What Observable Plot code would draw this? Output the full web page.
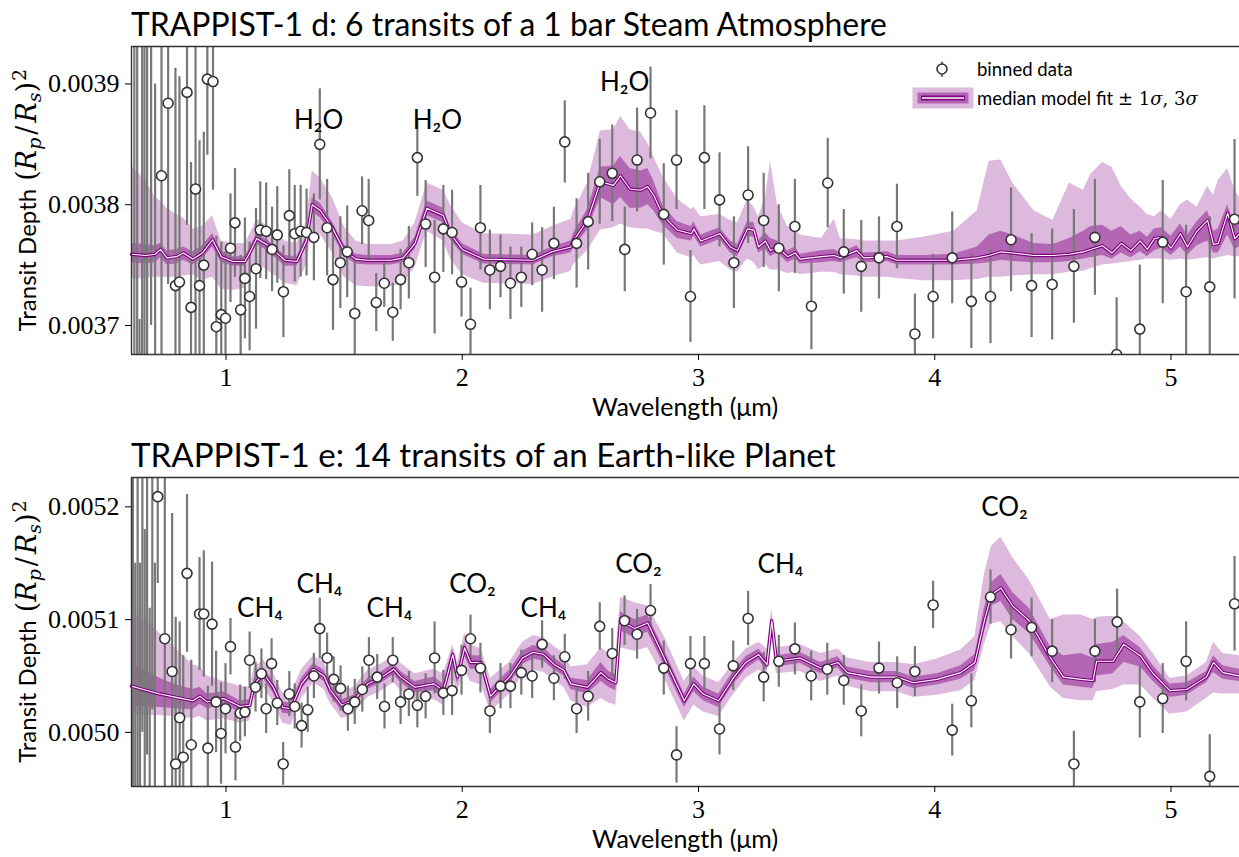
<!DOCTYPE html>
<html><head><meta charset="utf-8">
<script src="https://cdn.jsdelivr.net/npm/d3@7"></script>
<script src="https://cdn.jsdelivr.net/npm/@observablehq/plot@0.6"></script>
<style>
html,body{margin:0;padding:0;background:#fff;}
#wrap{position:relative;width:1239px;height:857px;overflow:hidden;background:#fff;}
#wrap svg{display:block;}
</style></head><body><div id="wrap"></div>
<script>
// ---------------- DATA ----------------
const xTicks = [1, 2, 3, 4, 5];
const yTicksD = [0.0037, 0.0038, 0.0039];
const yTicksE = [0.0050, 0.0051, 0.0052];
const titleD = "TRAPPIST-1 d: 6 transits of a 1 bar Steam Atmosphere";
const titleE = "TRAPPIST-1 e: 14 transits of an Earth-like Planet";
const xLabel = "Wavelength (μm)";

// model (ppm): wavelength, median, 1σ low, 1σ high, 3σ low, 3σ high
const modelD = [
[0.60,3759,3752,3768,3739,3832],[0.66,3758,3751,3767,3739,3820],[0.70,3759,3752,3766,3740,3806],
[0.723,3763,3756,3768,3740,3803],[0.75,3756,3750,3762,3740,3797],[0.79,3757,3751,3763,3740,3792],
[0.82,3760,3754,3765,3741,3789],[0.86,3755,3750,3761,3742,3780],[0.90,3760,3755,3766,3737,3782],
[0.943,3771,3765,3776,3740,3791],[0.98,3757,3752,3762,3730,3770],[1.03,3753,3749,3757,3729,3768],
[1.08,3753,3749,3757,3731,3768],[1.10,3760,3756,3764,3740,3775],[1.13,3772,3767,3776,3752,3788],
[1.18,3766,3761,3770,3745,3782],[1.25,3754,3749,3758,3735,3770],[1.30,3753,3749,3757,3733,3768],
[1.34,3770,3765,3774,3750,3785],[1.365,3800,3794,3806,3778,3828],[1.40,3795,3789,3801,3775,3822],
[1.45,3781,3776,3786,3760,3806],[1.50,3762,3757,3767,3740,3782],[1.55,3755,3751,3759,3733,3770],
[1.60,3754,3750,3758,3732,3767],[1.70,3754,3750,3758,3732,3767],[1.75,3756,3752,3760,3735,3770],
[1.80,3768,3763,3773,3748,3785],[1.85,3797,3791,3803,3778,3818],[1.92,3791,3785,3797,3770,3812],
[1.95,3776,3771,3781,3755,3800],[2.00,3763,3759,3768,3742,3785],[2.09,3755,3751,3759,3735,3776],
[2.30,3754,3750,3758,3734,3775],[2.38,3761,3757,3765,3740,3782],[2.46,3765,3760,3770,3745,3788],
[2.47,3770,3764,3776,3750,3794],[2.53,3787,3779,3796,3762,3818],[2.585,3819,3806,3831,3779,3861],
[2.64,3816,3800,3832,3781,3862],[2.67,3824,3806,3840,3784,3873],[2.71,3813,3797,3830,3781,3862],
[2.755,3812,3797,3828,3780,3860],[2.785,3815,3800,3830,3780,3851],[2.81,3808,3795,3820,3778,3840],
[2.85,3791,3783,3799,3776,3823],[2.91,3779,3772,3786,3760,3805],[2.97,3776,3770,3782,3756,3796],
[2.98,3780,3774,3786,3758,3798],[3.01,3770,3765,3775,3750,3790],[3.09,3776,3771,3781,3753,3792],
[3.135,3765,3760,3770,3746,3787],[3.165,3762,3757,3767,3744,3785],[3.207,3780,3774,3786,3755,3804],
[3.235,3779,3773,3785,3752,3798],[3.254,3765,3760,3770,3746,3790],[3.283,3770,3763,3777,3750,3806],
[3.305,3762,3757,3772,3746,3836],[3.334,3765,3760,3770,3746,3800],[3.377,3757,3752,3762,3743,3782],
[3.41,3760,3755,3765,3744,3780],[3.43,3755,3751,3759,3742,3775],[3.52,3757,3752,3762,3744,3772],
[3.575,3758,3753,3763,3744,3788],[3.60,3756,3752,3760,3742,3772],[3.67,3762,3756,3766,3741,3771],
[3.70,3756,3752,3760,3740,3770],[3.80,3757,3753,3761,3740,3770],[3.84,3754,3750,3758,3739,3770],
[3.95,3754,3750,3758,3737,3773],[4.08,3754,3750,3759,3737,3778],[4.18,3756,3751,3765,3738,3795],
[4.23,3758,3752,3775,3740,3836],[4.28,3761,3754,3778,3740,3837],[4.33,3760,3753,3775,3741,3818],
[4.42,3758,3752,3768,3742,3795],[4.50,3758,3752,3767,3742,3787],[4.57,3759,3753,3772,3744,3818],
[4.63,3761,3755,3778,3745,3812],[4.66,3763,3756,3782,3747,3825],[4.71,3766,3758,3783,3750,3835],
[4.75,3760,3755,3778,3751,3831],[4.79,3768,3760,3782,3752,3815],[4.83,3762,3756,3775,3753,3805],
[4.87,3770,3761,3778,3754,3798],[4.90,3763,3757,3773,3755,3792],[4.93,3772,3762,3780,3755,3790],
[4.96,3773,3764,3781,3755,3795],[5.00,3764,3758,3774,3754,3788],[5.04,3776,3765,3784,3755,3800],
[5.07,3765,3758,3775,3754,3804],[5.11,3778,3766,3786,3755,3798],[5.155,3787,3770,3795,3756,3815],
[5.18,3767,3760,3778,3755,3808],[5.20,3768,3760,3780,3756,3820],[5.24,3793,3775,3800,3758,3830],
[5.27,3772,3763,3782,3757,3812],[5.29,3776,3765,3786,3757,3806]
];
const modelE = [
[0.60,5041,5023,5061,5015,5106],[0.65,5038,5023,5056,5015,5101],[0.72,5034,5022,5048,5015,5088],
[0.79,5031,5021,5042,5014,5074],[0.86,5028,5020,5038,5012,5060],[0.89,5032,5025,5040,5014,5058],
[0.92,5027,5021,5034,5010,5050],[0.99,5030,5024,5036,5012,5045],[1.06,5023,5018,5028,5008,5041],
[1.10,5024,5019,5029,5010,5040],[1.12,5043,5038,5048,5030,5058],[1.16,5052,5047,5057,5040,5064],
[1.20,5040,5035,5045,5027,5053],[1.24,5022,5017,5027,5008,5035],[1.275,5021,5016,5026,5006,5034],
[1.32,5043,5038,5048,5030,5056],[1.37,5056,5051,5061,5044,5068],[1.415,5050,5045,5055,5038,5062],
[1.44,5038,5033,5043,5026,5050],[1.49,5024,5019,5029,5012,5036],[1.54,5028,5023,5033,5016,5040],
[1.60,5043,5038,5048,5031,5055],[1.66,5049,5044,5054,5037,5061],[1.71,5056,5051,5061,5044,5068],
[1.74,5049,5044,5054,5037,5061],[1.80,5040,5035,5045,5028,5052],[1.88,5043,5037,5049,5029,5056],
[1.92,5037,5031,5043,5024,5052],[1.96,5069,5060,5074,5048,5078],[1.98,5049,5043,5055,5036,5062],
[2.01,5075,5068,5080,5055,5088],[2.035,5062,5056,5068,5045,5078],[2.08,5062,5056,5068,5042,5074],
[2.12,5032,5026,5038,5018,5048],[2.16,5041,5035,5047,5026,5055],[2.20,5049,5043,5055,5034,5062],
[2.255,5066,5060,5072,5050,5080],[2.30,5071,5065,5077,5055,5086],[2.345,5069,5063,5075,5053,5084],
[2.39,5060,5055,5066,5046,5076],[2.43,5055,5050,5060,5040,5070],[2.46,5043,5038,5048,5028,5058],
[2.53,5040,5034,5046,5022,5060],[2.587,5053,5045,5062,5030,5075],[2.62,5047,5040,5054,5026,5070],
[2.65,5044,5037,5051,5024,5068],[2.67,5099,5090,5107,5075,5120],[2.73,5092,5084,5100,5072,5115],
[2.785,5097,5089,5104,5075,5112],[2.855,5066,5059,5073,5048,5085],[2.94,5028,5022,5034,5010,5045],
[2.98,5043,5036,5049,5024,5058],[3.02,5034,5028,5040,5018,5050],[3.085,5028,5022,5034,5014,5044],
[3.15,5049,5043,5055,5034,5062],[3.20,5062,5056,5067,5048,5074],[3.255,5069,5064,5074,5055,5080],
[3.29,5060,5055,5065,5050,5074],[3.31,5099,5092,5103,5085,5110],[3.33,5063,5058,5068,5052,5075],
[3.43,5066,5061,5071,5054,5078],[3.517,5057,5052,5062,5045,5070],[3.59,5062,5057,5067,5050,5074],
[3.63,5053,5048,5058,5041,5066],[3.73,5049,5044,5054,5036,5062],[3.84,5049,5044,5054,5036,5062],
[3.91,5044,5039,5049,5031,5060],[4.01,5047,5042,5052,5033,5065],[4.11,5053,5047,5059,5037,5073],
[4.17,5062,5055,5069,5046,5085],[4.21,5099,5089,5110,5078,5140],[4.24,5122,5112,5133,5096,5165],
[4.28,5128,5116,5140,5098,5173],[4.33,5112,5100,5124,5085,5155],[4.40,5099,5088,5110,5070,5135],
[4.49,5066,5058,5076,5040,5100],[4.545,5049,5042,5068,5030,5104],[4.62,5047,5040,5070,5028,5104],
[4.67,5046,5039,5066,5028,5100],[4.685,5063,5050,5078,5036,5102],[4.755,5063,5052,5080,5038,5103],
[4.80,5078,5062,5086,5042,5098],[4.87,5068,5058,5075,5042,5085],[4.925,5052,5045,5059,5030,5070],
[4.995,5037,5031,5043,5016,5048],[5.066,5038,5033,5044,5018,5050],[5.15,5049,5044,5054,5030,5062],
[5.18,5062,5053,5068,5035,5080],[5.22,5053,5047,5059,5034,5070],[5.29,5050,5045,5056,5034,5068]
];

// binned data (ppm): wavelength, depth, 1σ error
const dataD = [
[0.612,3990,400],[0.624,3620,350],[0.634,3610,95],[0.645,3950,320],[0.655,3640,300],[0.666,4000,360],
[0.683,3960,260],[0.700,3640,260],
[0.727,3824,200],[0.755,3884,150],[0.786,3733,180],[0.803,3736,170],[0.835,3893,110],[0.852,3715,120],
[0.871,3813,140],[0.888,3733,120],[0.906,3750,110],[0.921,3904,63],[0.945,3902,90],[0.959,3699,75],
[0.980,3709,60],[0.998,3706,55],[1.019,3764,45],[1.038,3785,45],[1.062,3713,45],[1.080,3739,50],
[1.100,3724,45],[1.127,3747,50],[1.145,3779,40],[1.170,3778,40],[1.195,3763,35],[1.217,3775,40],
[1.243,3728,38],[1.268,3791,38],[1.291,3776,40],[1.316,3778,38],[1.341,3777,36],[1.372,3773,36],
[1.397,3850,46],[1.428,3781,40],[1.453,3738,42],[1.484,3752,38],[1.513,3761,38],[1.545,3710,45],
[1.576,3795,28],[1.604,3787,34],[1.636,3719,24],[1.670,3735,20],[1.706,3711,24],[1.739,3738,25],
[1.774,3752,30],[1.810,3839,32],[1.845,3784,36],[1.883,3740,47],[1.920,3780,36],[1.957,3777,35],
[1.997,3736,29],[2.035,3701,30],[2.077,3781,35],[2.117,3746,33],[2.162,3749,26],[2.204,3735,30],
[2.250,3740,25],[2.296,3759,26],[2.338,3746,35],[2.388,3768,30],[2.434,3852,34],[2.484,3768,37],
[2.533,3786,40],[2.582,3819,35],[2.635,3826,40],[2.688,3763,35],[2.740,3837,43],[2.797,3876,38],
[2.853,3792,42],[2.907,3837,41],[2.966,3724,38],[3.025,3839,43],[3.089,3804,39],[3.150,3752,38],
[3.210,3808,40],[3.276,3787,39],[3.340,3764,36],[3.408,3782,39],[3.478,3716,36],[3.547,3818,37],
[3.615,3761,35],[3.689,3749,38],[3.764,3756,34],[3.840,3782,35],[3.916,3693,33],[3.993,3724,35],
[4.074,3756,38],[4.155,3720,39],[4.236,3724,39],[4.323,3771,43],[4.410,3733,43],[4.497,3734,46],
[4.589,3749,47],[4.678,3773,48],[4.770,3676,47],[4.868,3697,53],[4.965,3769,51],[5.064,3728,55],
[5.164,3732,58],[5.269,3788,66]
];
const dataE = [
[0.606,5300,400],[0.616,4800,350],[0.626,5250,300],[0.636,4850,300],[0.646,5350,350],[0.656,4900,280],
[0.666,5280,300],[0.677,4860,250],[0.688,5300,280],[0.699,4900,250],
[0.711,5209,77],[0.741,5083,160],[0.772,5054,140],[0.787,4972,130],[0.804,5013,85],[0.819,4978,90],
[0.835,5141,70],[0.853,4989,75],[0.888,5105,50],[0.906,5105,56],[0.923,4986,55],[0.941,5096,55],
[0.958,5027,45],[0.979,4999,45],[0.998,5021,40],[1.019,5076,25],[1.040,4987,30],[1.060,5017,25],
[1.080,5018,22],[1.100,5064,25],[1.125,5040,22],[1.150,5052,22],[1.170,5021,22],[1.193,5061,22],
[1.217,5026,20],[1.242,4972,19],[1.268,5034,20],[1.291,5023,20],[1.320,5006,20],[1.346,5020,20],
[1.372,5050,20],[1.397,5092,27],[1.428,5066,22],[1.456,5047,20],[1.485,5039,20],[1.516,5021,20],
[1.545,5027,20],[1.577,5038,20],[1.605,5064,20],[1.640,5049,20],[1.671,5023,20],[1.706,5064,20],
[1.739,5027,20],[1.774,5034,20],[1.810,5024,20],[1.845,5032,20],[1.883,5066,32],[1.920,5035,20],
[1.957,5037,22],[1.997,5055,22],[2.035,5083,21],[2.077,5057,22],[2.117,5019,20],[2.162,5041,20],
[2.204,5041,20],[2.250,5053,20],[2.296,5050,20],[2.338,5078,21],[2.388,5048,20],[2.434,5067,20],
[2.484,5021,22],[2.533,5032,22],[2.582,5094,21],[2.635,5070,22],[2.687,5099,22],[2.740,5087,22],
[2.797,5108,23],[2.853,5057,24],[2.907,4980,25],[2.966,5061,24],[3.025,5061,24],[3.089,5003,23],
[3.147,5059,22],[3.210,5101,24],[3.276,5049,22],[3.340,5063,23],[3.408,5074,23],[3.477,5050,22],
[3.545,5056,23],[3.615,5046,22],[3.689,5019,23],[3.764,5057,23],[3.841,5044,23],[3.916,5054,22],
[3.993,5113,21],[4.074,5002,23],[4.155,5028,24],[4.236,5120,24],[4.323,5091,26],[4.410,5093,26],
[4.497,5072,28],[4.589,4972,29],[4.678,5072,28],[4.772,5098,29],[4.868,5027,32],[4.965,5030,31],
[5.064,5063,35],[5.164,4961,37],[5.269,5114,42]
];

// molecule labels (wavelength, ppm)
const labelsD = [[1.392,3870,"H₂O"],[1.895,3870,"H₂O"],[2.687,3901,"H₂O"]];
const labelsE = [[1.144,5110,"CH₄"],[1.396,5131,"CH₄"],[1.692,5110,"CH₄"],[2.043,5131,"CO₂"],
                 [2.344,5110,"CH₄"],[2.746,5149,"CO₂"],[3.347,5149,"CH₄"],[4.295,5199,"CO₂"]];

const xDomain = [0.6, 5.29];
const yDomainD = [3676, 3931];
const yDomainE = [4952, 5226];

// ---------------- DRAWING ----------------
const P = v => v * 1e-6;
const SANS = "Lato, 'Open Sans', sans-serif";
const SERIF = "'Liberation Serif', 'DejaVu Serif', serif";
const MATH = "'DejaVu Serif', 'Liberation Serif', serif";
const PURPLE = "#800080";

function panel({model, data, labels, yDomain, yTicks, height, mt, mb}) {
  const m = model.map(([w, med, l1, h1, l3, h3]) => ({w, m: P(med), l1: P(l1), h1: P(h1), l3: P(l3), h3: P(h3)}));
  const pts = data.map(([w, v, e]) => ({w, v: P(v), lo: P(v - e), hi: P(v + e)}));
  const lab = labels.map(([w, v, t]) => ({w, v: P(v), t}));
  const [y0, y1] = yDomain.map(P);
  return Plot.plot({
    width: 1239, height, marginLeft: 131, marginRight: 0, marginTop: mt, marginBottom: mb,
    x: {domain: xDomain},
    y: {domain: [y0, y1]},
    style: {fontFamily: SERIF, fontSize: "26px", color: "#000", background: "transparent", overflow: "visible"},
    marks: [
      Plot.areaY(m, {x: "w", y1: "l3", y2: "h3", fill: PURPLE, fillOpacity: 0.27}),
      Plot.areaY(m, {x: "w", y1: "l1", y2: "h1", fill: PURPLE, fillOpacity: 0.45}),
      Plot.ruleX(pts, {x: "w", y1: "lo", y2: "hi", stroke: "#787878", strokeWidth: 2.2, clip: true}),
      Plot.line(m, {x: "w", y: "m", stroke: PURPLE, strokeWidth: 3.4}),
      Plot.line(m, {x: "w", y: "m", stroke: "#fff", strokeWidth: 1.1}),
      Plot.dot(pts, {x: "w", y: "v", r: 5, fill: "#fff", stroke: "#333", strokeWidth: 1.6, clip: true}),
      Plot.text(lab, {x: "w", y: "v", text: "t", fontSize: 26, fontFamily: SANS, fill: "#000"}),
      Plot.ruleX([xDomain[0]], {stroke: "#333", strokeWidth: 1.4}),
      Plot.ruleY([y0], {stroke: "#333", strokeWidth: 1.4}),
      Plot.ruleY([y1], {stroke: "#333", strokeWidth: 1.4}),
      Plot.axisX({ticks: xTicks, tickFormat: d => String(d), tickSize: 6, tickPadding: 7, label: null, fontSize: 26, fontFamily: SERIF}),
      Plot.axisY({ticks: yTicks, tickFormat: d3.format(".4f"), tickSize: 6, tickPadding: 6, label: null, fontSize: 26, fontFamily: SERIF})
    ]
  });
}

function decorate(svg, {title, titleWidth, height, mt, mb}) {
  const s = d3.select(svg);
  const t = s.append("text").attr("x", 131).attr("y", mt - 10).attr("text-anchor", "start")
    .attr("font-family", SANS).attr("font-size", 30).attr("fill", "#000").text(title);
  const tw = t.node().getComputedTextLength();
  if (tw > 0) t.attr("font-size", 30 * titleWidth / tw);
  s.append("text").attr("x", (131 + 1239) / 2).attr("y", height - mb + 62)
    .attr("text-anchor", "middle").attr("font-family", SANS).attr("font-size", 25).attr("fill", "#000").text(xLabel);
  const yl = s.append("text").attr("transform", `translate(36,${(mt + height - mb) / 2}) rotate(-90)`)
    .attr("text-anchor", "middle").attr("font-size", 27).attr("fill", "#000");
  // text, family, style, size, dy, dx
  const parts = [
    ["Transit Depth ", SANS, null, 24, 0, 0],
    ["(", MATH, null, null, 0, 2],
    ["R", MATH, "italic", null, 0, 0],
    ["p", MATH, "italic", 19, 5, 0],
    ["/", MATH, null, null, -5, 3],
    ["R", MATH, "italic", null, 0, 3],
    ["s", MATH, "italic", 19, 5, 0],
    [")", MATH, null, null, -5, 0],
    ["2", MATH, null, 19, -10, 1]
  ];
  for (const [txt, ff, fs, sz, dy, dx] of parts) {
    const ts = yl.append("tspan").attr("font-family", ff).text(txt);
    if (fs) ts.attr("font-style", fs);
    if (sz) ts.attr("font-size", sz);
    if (dy) ts.attr("dy", dy);
    if (dx) ts.attr("dx", dx);
  }
}

const wrap = document.getElementById("wrap");
const cfgD = {title: titleD, titleWidth: 756, height: 428, mt: 46, mb: 74};
const cfgE = {title: titleE, titleWidth: 705, height: 429, mt: 49, mb: 71};
const svgD = panel({model: modelD, data: dataD, labels: labelsD, yDomain: yDomainD, yTicks: yTicksD, ...cfgD});
wrap.appendChild(svgD);
decorate(svgD, cfgD);
const svgE = panel({model: modelE, data: dataE, labels: labelsE, yDomain: yDomainE, yTicks: yTicksE, ...cfgE});
wrap.appendChild(svgE);
decorate(svgE, cfgE);

// legend (top panel)
const L = d3.select(svgD).append("g").attr("text-anchor", "start");
L.append("line").attr("x1", 942).attr("x2", 942).attr("y1", 61.5).attr("y2", 77).attr("stroke", "#787878").attr("stroke-width", 2.2);
L.append("circle").attr("cx", 942).attr("cy", 69).attr("r", 5).attr("fill", "#fff").attr("stroke", "#333").attr("stroke-width", 1.6);
L.append("text").attr("x", 977).attr("y", 76).attr("font-family", SANS).attr("font-size", 18.5).attr("fill", "#000").text("binned data");
L.append("rect").attr("x", 912.5).attr("y", 87.5).attr("width", 61).attr("height", 21).attr("fill", PURPLE).attr("fill-opacity", 0.27);
L.append("rect").attr("x", 917.5).attr("y", 92.5).attr("width", 51).attr("height", 11).attr("fill", PURPLE).attr("fill-opacity", 0.45);
L.append("line").attr("x1", 921).attr("x2", 965).attr("y1", 98).attr("y2", 98).attr("stroke", PURPLE).attr("stroke-width", 5);
L.append("line").attr("x1", 922).attr("x2", 964).attr("y1", 98).attr("y2", 98).attr("stroke", "#fff").attr("stroke-width", 1.6);
const lt = L.append("text").attr("x", 977).attr("y", 105).attr("font-size", 18.5).attr("fill", "#000");
lt.append("tspan").attr("font-family", SANS).text("median model fit ");
lt.append("tspan").attr("font-family", MATH).attr("font-size", 18).text("± 1");
lt.append("tspan").attr("font-family", MATH).attr("font-size", 18).attr("font-style", "italic").text("σ");
lt.append("tspan").attr("font-family", MATH).attr("font-size", 18).text(", 3");
lt.append("tspan").attr("font-family", MATH).attr("font-size", 18).attr("font-style", "italic").text("σ");
</script></body></html>
